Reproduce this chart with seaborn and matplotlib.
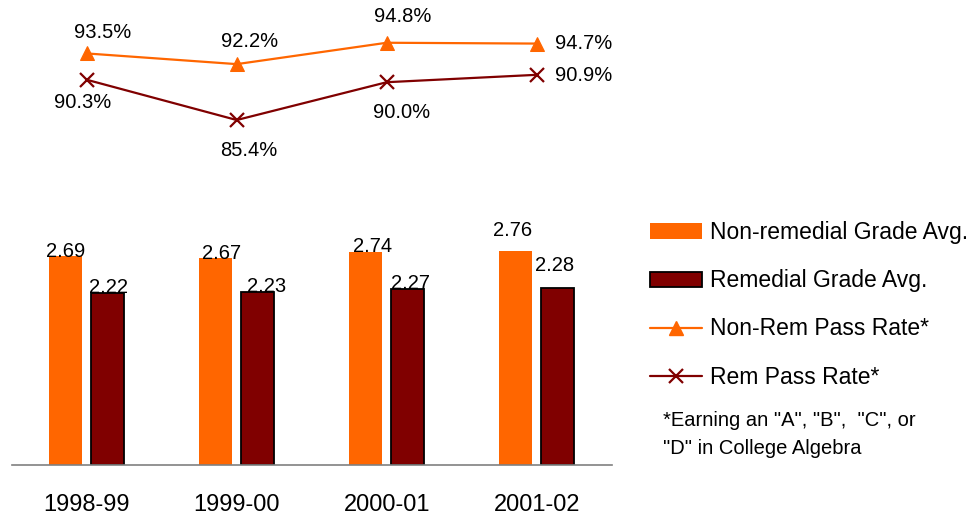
import matplotlib
matplotlib.use("Agg")
import matplotlib.pyplot as plt
import seaborn as sns
import pandas as pd
from matplotlib.patches import Patch
from matplotlib.lines import Line2D

# ---- data ----
years = ["1998-99", "1999-00", "2000-01", "2001-02"]
nonrem_grade = [2.69, 2.67, 2.74, 2.76]
rem_grade = [2.22, 2.23, 2.27, 2.28]
nonrem_pass = [93.5, 92.2, 94.8, 94.7]
rem_pass = [90.3, 85.4, 90.0, 90.9]
series_names = ["Non-remedial Grade Avg.", "Remedial Grade Avg.",
                "Non-Rem Pass Rate*", "Rem Pass Rate*"]
footnote = ['*Earning an "A", "B",  "C", or', '"D" in College Algebra']

# ---- styling ----
sns.set_style("white")
plt.rcParams["font.family"] = ["Liberation Sans", "DejaVu Sans"]
plt.rcParams["text.color"] = "black"
plt.rcParams["xtick.color"] = "black"
ORANGE = "#FF6600"
MAROON = "#800000"
W, H = 978, 517

fig = plt.figure(figsize=(W / 100, H / 100), dpi=100)
ax = fig.add_axes([11.7 / W, 1 - 464.5 / H, 600 / W, 464.5 / H])

bars = pd.DataFrame({
    "year": years * 2,
    "series": [series_names[0]] * len(years) + [series_names[1]] * len(years),
    "value": nonrem_grade + rem_grade,
})
sns.barplot(data=bars, x="year", y="value", hue="series",
            hue_order=series_names[:2], palette=[ORANGE, MAROON],
            width=0.56, gap=0.22, legend=False, ax=ax, saturation=1)
for p in ax.containers[0]:
    p.set_edgecolor("none")
for p in ax.containers[1]:
    p.set_edgecolor("black")
    p.set_linewidth(1.3)

ax.set_ylim(0, 6)
ax.set_xlim(-0.5, len(years) - 0.5)
ax.set_xlabel("")
ax.set_ylabel("")
ax.set_yticks([])
for s in ["top", "left", "right"]:
    ax.spines[s].set_visible(False)
ax.spines["bottom"].set_color("#808080")
ax.spines["bottom"].set_linewidth(1.2)
ax.set_xticks(range(len(years)))
ax.set_xticklabels(years, fontsize=17, color="black")
ax.tick_params(axis="x", which="major", length=0, pad=21)
ax.set_xticks([i - 0.5 for i in range(len(years) + 1)], minor=True)
ax.tick_params(axis="x", which="minor", length=6, width=1.2, color="#808080",
               direction="out")

# bar value labels (pixel offsets of label from bar top)
bar_off = [[(0, -1), (6, -1), (7, 0), (-3, 15)],
           [(1, 0), (9, 0), (3, 0), (-3, 17)]]
for k, cont in enumerate(ax.containers):
    vals = nonrem_grade if k == 0 else rem_grade
    for j, p in enumerate(cont):
        ax.annotate(f"{vals[j]:.2f}", (p.get_x() + p.get_width() / 2, p.get_height()),
                    xytext=bar_off[k][j], textcoords="offset pixels",
                    ha="center", va="baseline", fontsize=14.5, color="black")

# lines on a secondary axis
ax2 = ax.twinx()
lines = pd.DataFrame({"year": years, "nonrem": nonrem_pass, "rem": rem_pass})
sns.lineplot(data=lines, x="year", y="nonrem", color=ORANGE, marker="^",
             markersize=10, markeredgecolor=ORANGE, linewidth=1.6, ax=ax2)
sns.lineplot(data=lines, x="year", y="rem", color=MAROON, marker="x",
             markersize=10, markeredgewidth=1.6, markeredgecolor=MAROON,
             linewidth=1.6, ax=ax2)
ax2.set_ylim(43.5, 100)
ax2.set_xlim(-0.5, len(years) - 0.5)
ax2.set_yticks([])
ax2.set_ylabel("")
ax2.set_xlabel("")
for s in ax2.spines.values():
    s.set_visible(False)

top_off = [(16, 21), (13, 23), (16, 26), (47, 0)]
bot_off = [(-4, -23), (12, -30), (15, -30), (47, -1)]
for i, v in enumerate(nonrem_pass):
    ax2.annotate(f"{v:.1f}%", (i, v), xytext=top_off[i], textcoords="offset pixels",
                 ha="center", va="center", fontsize=14.5, color="black")
for i, v in enumerate(rem_pass):
    ax2.annotate(f"{v:.1f}%", (i, v), xytext=bot_off[i], textcoords="offset pixels",
                 ha="center", va="center", fontsize=14.5, color="black")

# legend
handles = [
    Patch(facecolor=ORANGE, edgecolor="none"),
    Patch(facecolor=MAROON, edgecolor="black", linewidth=1.3),
    Line2D([], [], color=ORANGE, marker="^", markersize=10, linewidth=1.6),
    Line2D([], [], color=MAROON, marker="x", markersize=10, markeredgewidth=1.6,
           linewidth=1.6),
]
fig.legend(handles, series_names, loc="upper left",
           bbox_to_anchor=(650 / W, 1 - 221 / H), frameon=False,
           fontsize=16.5, handlelength=2.27, handleheight=0.65,
           handletextpad=0.35, labelspacing=1.1, borderpad=0, borderaxespad=0)

fig.text(663 / W, 1 - 421 / H, footnote[0], fontsize=14.5, va="center", ha="left")
fig.text(663 / W, 1 - 449 / H, footnote[1], fontsize=14.5, va="center", ha="left")

fig.savefig("out.png", dpi=100)
